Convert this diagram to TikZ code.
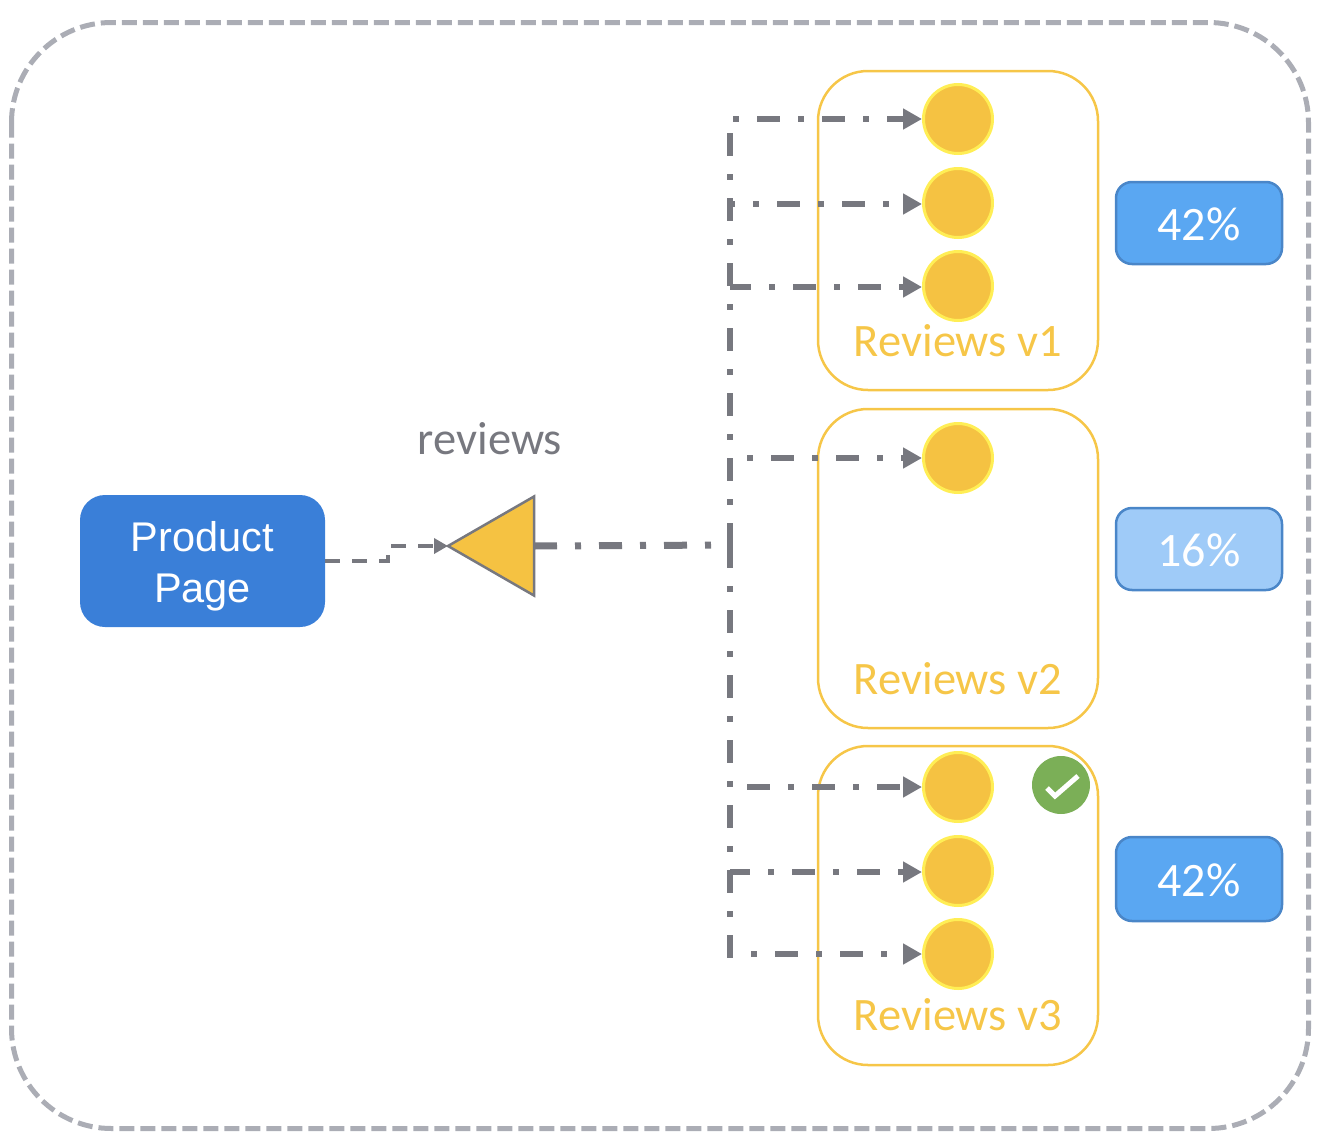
\documentclass[tikz,border=0pt]{standalone}
\usepackage{fontspec}
\setmainfont{Liberation Sans}
\newfontfamily\labelfont{Carlito}
\usetikzlibrary{arrows.meta,shapes.geometric}
\definecolor{podyellow}{HTML}{F5C242}
\definecolor{podring}{HTML}{FFEE55}
\definecolor{boxyellow}{HTML}{F6C648}
\definecolor{linegray}{HTML}{77787F}
\definecolor{outergray}{HTML}{ABADB5}
\definecolor{pageblue}{HTML}{3A7FD8}
\definecolor{pctblue}{HTML}{5AA7F2}
\definecolor{pctlight}{HTML}{9FCBF8}
\definecolor{pctedge}{HTML}{4A86C8}
\definecolor{okgreen}{HTML}{7BAF57}
\tikzset{
  pod/.style={circle,draw=podring,fill=podyellow,line width=3pt,minimum size=69pt,inner sep=0pt,outer sep=1.5pt},
  version/.style={draw=boxyellow,line width=2.5pt,rounded corners=50pt,minimum width=280pt,minimum height=319pt,inner sep=0pt,outer sep=0pt},
  versionlabel/.style={text=boxyellow,font=\labelfont\fontsize{46.5}{50}\selectfont,inner sep=0pt},
  pct/.style={draw=pctedge,fill=pctblue,line width=2.5pt,rounded corners=16pt,minimum width=166pt,minimum height=82pt,text=white,font=\labelfont\fontsize{48}{50}\selectfont,inner sep=0pt,text height=34pt,text depth=0pt},
  route/.style={draw=linegray,line width=6pt,-{Triangle[length=19pt,width=20pt]}},
  dashdot/.style={dash pattern=on 23pt off 18pt on 6pt off 18pt,dash phase=#1}
}
\begin{document}
\begin{tikzpicture}[x=1pt,y=-1pt]
\useasboundingbox (0,0) rectangle (1326,1146);
\draw[outergray,line width=5pt,dash pattern=on 15pt off 6pt,rounded corners=100pt] (11.5,22.5) rectangle (1308.5,1128.5);
\node[version] (v1) at (958,230.5) {};
\node[version] (v2) at (958,568.5) {};
\node[version] (v3) at (958,905.5) {};
\node[versionlabel] (v1label) at (958,341) {Reviews v1};
\node[versionlabel] (v2label) at (958,679) {Reviews v2};
\node[versionlabel] (v3label) at (958,1015) {Reviews v3};
\node[pod] (p11) at (958,119) {};
\node[pod] (p12) at (958,203) {};
\node[pod] (p13) at (958,286) {};
\node[pod] (p21) at (958,458) {};
\node[pod] (p31) at (958,787) {};
\node[pod] (p32) at (958,871) {};
\node[pod] (p33) at (958,954) {};
\node[pct] (pct1) at (1199,223) {42\%};
\node[pct,fill=pctlight] (pct2) at (1199,549) {16\%};
\node[pct,minimum height=84pt] (pct3) at (1199,879) {42\%};
\node[circle,fill=okgreen,minimum size=58pt,inner sep=0pt] (ok) at (1061,785) {};
\draw[white,line width=5pt] ([shift={(-14,3)}]ok.center) -- ([shift={(-6,11)}]ok.center) -- ([shift={(17,-9)}]ok.center);
\node[fill=pageblue,rounded corners=25pt,minimum width=245pt,minimum height=132pt,text=white,align=center,font=\fontsize{41.5}{51}\selectfont,inner sep=0pt,outer sep=0pt] (product) at (202.5,561) {\rule{0pt}{41pt}Product\\Page};
\node[isosceles triangle,isosceles triangle stretches,shape border rotate=180,draw=linegray,fill=podyellow,line width=2.5pt,minimum width=99pt,minimum height=86pt,inner sep=0pt,outer sep=0pt,anchor=apex] (svc) at (448,546) {};
\node[text=linegray,font=\labelfont\fontsize{46.5}{50}\selectfont,inner sep=0pt] (svclabel) at (490,439) {reviews};
\coordinate (bend1) at (388,561);
\coordinate (bend2) at (388,546);
\coordinate (trunkmid) at (730,545);
\coordinate (trunktop) at (730,119);
\coordinate (trunkbot) at (730,958);
\draw[draw=linegray,line width=3.5pt,dash pattern=on 15pt off 12pt,-{Triangle[length=14pt,width=15pt]}] (product.east) -- (bend1) -- (bend2) -- (svc.apex);
\draw[linegray,line width=7pt,dashdot=0] (svc.lower side) -- (trunkmid);
\draw[linegray,line width=6.5pt,dashdot=51] (trunktop) -- (trunkmid);
\draw[linegray,line width=6.5pt,dashdot=0] (trunkmid) -- (trunkbot);
\draw[route,dashdot=38] (trunktop) -- (p11.west);
\draw[route,dashdot=18] (730,204) -- (p12.west |- 730,204);
\draw[route,dashdot=2] (730,287) -- (p13.west |- 730,287);
\draw[route,dashdot=24] (730,458) -- (p21.west);
\draw[route,dashdot=48] (730,787) -- (p31.west);
\draw[route,dashdot=3] (730,872) -- (p32.west |- 730,872);
\draw[route,dashdot=20] (730,954) -- (p33.west);
\end{tikzpicture}
\end{document}
